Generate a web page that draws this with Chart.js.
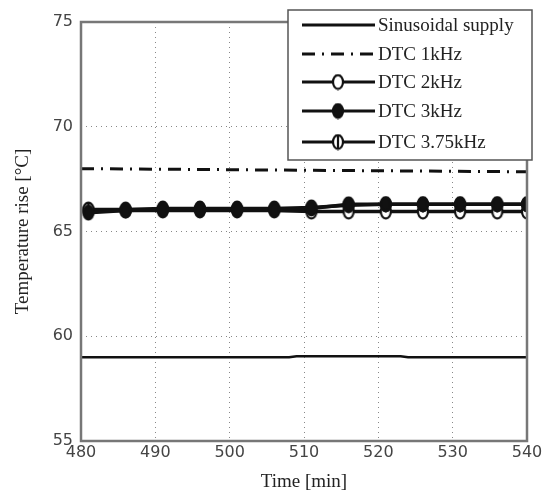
<!DOCTYPE html>
<html>
<head>
<meta charset="utf-8">
<script src="https://cdn.jsdelivr.net/npm/chart.js@4"></script>
<style>
  html, body { margin: 0; padding: 0; background: #fff; }
  #wrap { width: 545px; height: 495px; position: relative; }
</style>
</head>
<body>
<div id="wrap"><canvas id="chart"></canvas></div>
<script>
// Temperature rise vs time
const seriesNames = ['Sinusoidal supply', 'DTC 1kHz', 'DTC 2kHz', 'DTC 3kHz', 'DTC 3.75kHz'];

const sinTime = [480, 508, 509, 523, 524, 540];
const sinTemp = [59.0, 59.0, 59.05, 59.05, 59.0, 59.0];

const dtc1Time = [480, 500, 520, 540];
const dtc1Temp = [68.0, 67.95, 67.9, 67.85];

// marker series sampled every 5 min
const dtcTime = [481, 486, 491, 496, 501, 506, 511, 516, 521, 526, 531, 536, 540];
const dtc2Temp = [66.0, 66.0, 66.0, 66.0, 66.0, 66.0, 65.95, 65.95, 65.95, 65.95, 65.95, 65.95, 65.95];
const dtc3Temp = [65.9, 66.0, 66.05, 66.05, 66.05, 66.05, 66.1, 66.3, 66.3, 66.3, 66.3, 66.3, 66.3];
const dtc375Temp = [66.05, 66.05, 66.1, 66.1, 66.1, 66.1, 66.15, 66.25, 66.3, 66.3, 66.3, 66.3, 66.3];

const xTicks = [480, 490, 500, 510, 520, 530, 540];
const yTicks = [55, 60, 65, 70, 75];

const serif = '"Liberation Serif", "Times New Roman", serif';
const sans = '"DejaVu Sans", sans-serif';

// small canvas markers, slightly taller than wide like the original
function makeMarker(kind) {
    const c = document.createElement('canvas');
    c.width = 14; c.height = 17;
    const g = c.getContext('2d');
    g.lineWidth = 2.2;
    g.strokeStyle = '#111';
    g.fillStyle = kind === 'filled' ? '#111' : '#fff';
    g.beginPath();
    g.ellipse(7, 8.5, 5, 6.8, 0, 0, Math.PI * 2);
    g.fill();
    g.stroke();
    if (kind === 'theta') {
        g.beginPath();
        g.moveTo(7, 1.5); g.lineTo(7, 15.5);
        g.stroke();
    }
    return c;
}

const pair = (xs, ys) => xs.map((x, i) => ({ x: x, y: ys[i] }));

// lower order is drawn on top
const datasets = [
    { label: seriesNames[0], data: pair(sinTime, sinTemp), borderColor: '#111', borderWidth: 2.5, pointRadius: 0, order: 0 },
    { label: seriesNames[1], data: pair(dtc1Time, dtc1Temp), borderColor: '#111', borderWidth: 3, pointRadius: 0, borderDash: [13, 7, 2, 7], order: 1 },
    { label: seriesNames[2], data: pair(dtcTime, dtc2Temp), borderColor: '#111', borderWidth: 3.5, pointStyle: makeMarker('open'), order: 4 },
    { label: seriesNames[3], data: pair(dtcTime, dtc3Temp), borderColor: '#111', borderWidth: 3.5, pointStyle: makeMarker('filled'), order: 2 },
    { label: seriesNames[4], data: pair(dtcTime, dtc375Temp), borderColor: '#111', borderWidth: 3.5, pointStyle: makeMarker('theta'), order: 3 }
];

// frame around the plot area
const boxPlugin = {
    id: 'box',
    afterDatasetsDraw(chart) {
        const a = chart.chartArea, ctx = chart.ctx;
        ctx.save();
        ctx.strokeStyle = '#777';
        ctx.lineWidth = 2.5;
        ctx.strokeRect(a.left, a.top, a.right - a.left, a.bottom - a.top);
        ctx.restore();
    }
};

// boxed legend in the top right corner, overlapping the plot
const legendPlugin = {
    id: 'boxLegend',
    afterDraw(chart) {
        const ctx = chart.ctx;
        const bx = 288, by = 10, bw = 244, bh = 150;
        const rows = [25, 54, 82, 111, 142];
        ctx.save();
        ctx.fillStyle = '#fff';
        ctx.fillRect(bx, by, bw, bh);
        ctx.strokeStyle = '#555';
        ctx.lineWidth = 1.5;
        ctx.strokeRect(bx, by, bw, bh);
        chart.data.datasets.forEach((ds, i) => {
            const y = rows[i];
            ctx.strokeStyle = ds.borderColor;
            ctx.lineWidth = 3;
            ctx.setLineDash(ds.borderDash || []);
            ctx.beginPath();
            ctx.moveTo(302, y); ctx.lineTo(375, y);
            ctx.stroke();
            ctx.setLineDash([]);
            if (ds.pointStyle instanceof HTMLCanvasElement) {
                ctx.drawImage(ds.pointStyle, 338 - 7, y - 8.5);
            }
            ctx.fillStyle = '#222';
            ctx.font = '19px ' + serif;
            ctx.textBaseline = 'middle';
            ctx.fillText(ds.label, 378, y + 1);
        });
        ctx.restore();
    }
};

new Chart(document.getElementById('chart'), {
    type: 'line',
    data: { datasets },
    options: {
        responsive: true,
        maintainAspectRatio: false,
        animation: false,
        layout: { padding: { top: 22, right: 18, left: 12, bottom: 0 } },
        elements: { line: { tension: 0 }, point: { radius: 5, hoverRadius: 5 } },
        scales: {
            x: {
                type: 'linear',
                min: 480,
                max: 540,
                afterBuildTicks: (s) => { s.ticks = xTicks.map(v => ({ value: v })); },
                afterFit: (s) => { s.height = 54; },
                title: { display: true, text: 'Time [min]', color: '#222', font: { family: serif, size: 19 }, padding: { top: 0, bottom: 2 } },
                ticks: { color: '#444', font: { family: sans, size: 16 }, padding: 2, maxRotation: 0 },
                grid: { color: '#888', lineWidth: 1, drawTicks: false },
                border: { display: false, dash: [1, 4] }
            },
            y: {
                min: 55,
                max: 75,
                afterBuildTicks: (s) => { s.ticks = yTicks.map(v => ({ value: v })); },
                afterFit: (s) => { s.width = 69; },
                title: { display: true, text: 'Temperature rise [°C]', color: '#222', font: { family: serif, size: 19 }, padding: { top: 0, bottom: 4 } },
                ticks: { color: '#444', font: { family: sans, size: 16 }, padding: 8 },
                grid: { color: '#888', lineWidth: 1, drawTicks: false },
                border: { display: false, dash: [1, 4] }
            }
        },
        plugins: {
            legend: { display: false },
            tooltip: { enabled: false }
        }
    },
    plugins: [boxPlugin, legendPlugin]
});
</script>
</body>
</html>
